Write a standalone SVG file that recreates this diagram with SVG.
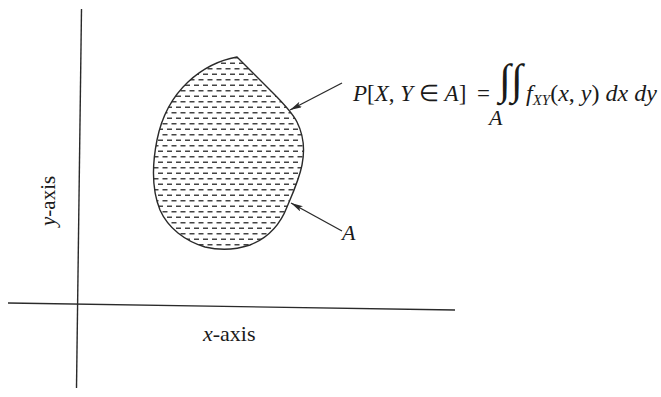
<svg xmlns="http://www.w3.org/2000/svg" width="661" height="397" viewBox="0 0 661 397">
<style>
.ax{stroke:#2a2a2a;stroke-width:1.4;fill:none}
.ptr{stroke:#2a2a2a;stroke-width:1.3;fill:none;marker-end:url(#ah)}
.t{font-family:"Liberation Serif","Times New Roman",serif;fill:#1a1a1a}
.i{font-style:italic}
</style>
<defs>
<marker id="ah" viewBox="0 0 12 6" refX="12" refY="3" markerWidth="12" markerHeight="6" markerUnits="userSpaceOnUse" orient="auto">
<path d="M0,0 L12,3 L0,6 L2.5,3 Z" fill="#2a2a2a"/>
</marker>
<pattern id="dash" width="9" height="11" patternUnits="userSpaceOnUse">
<path d="M0.5,2.75 H5.5 M5,8.25 H9 M0,8.25 H1" stroke="#444" stroke-width="1.3"/>
</pattern>
</defs>
<rect width="661" height="397" fill="#fff"/>
<g id="axes">
<line class="ax" x1="81.5" y1="9" x2="76.5" y2="388"/>
<line class="ax" x1="8" y1="303" x2="455" y2="310"/>
<text class="t" font-size="21" transform="translate(55,226) rotate(-90)"><tspan class="i">y</tspan>-axis</text>
<text class="t" font-size="22" x="203" y="341"><tspan class="i">x</tspan>-axis</text>
</g>
<g id="region">
<path d="M237,57 C248,68 262,82 273,93 C282,102 292,112 297,122 C303,134 305,150 302,165 C299,180 292,195 287,207 C280,225 268,238 250,245 C235,250 218,250 205,247 C185,241 168,228 160,210 C152,190 152,165 157,140 C162,115 172,97 188,82 C203,68 220,60 237,57 Z" fill="url(#dash)" stroke="#2a2a2a" stroke-width="1.4"/>
</g>
<g id="connectors">
<line class="ptr" x1="342" y1="83" x2="290" y2="110"/>
<line class="ptr" x1="342" y1="231" x2="291" y2="203"/>
</g>
<g id="formula">
<text class="t" font-size="23" x="353" y="101"><tspan class="i">P</tspan>[<tspan class="i">X</tspan>, <tspan class="i">Y</tspan> ∈ <tspan class="i">A</tspan>]</text>
<text class="t" font-size="23" x="477" y="101">=</text>
<text class="t i" font-size="43" x="499" y="94">∫</text>
<text class="t i" font-size="43" x="511" y="94">∫</text>
<text class="t" font-size="24" x="526" y="101"><tspan class="i">f</tspan><tspan class="i" font-size="15" dy="4">XY</tspan><tspan dy="-4">(</tspan><tspan class="i">x</tspan>, <tspan class="i">y</tspan>) <tspan class="i">dx dy</tspan></text>
<text class="t i" font-size="22" x="489" y="125">A</text>
</g>
<g id="label-A">
<text class="t i" font-size="22" x="342" y="240">A</text>
</g>
</svg>
